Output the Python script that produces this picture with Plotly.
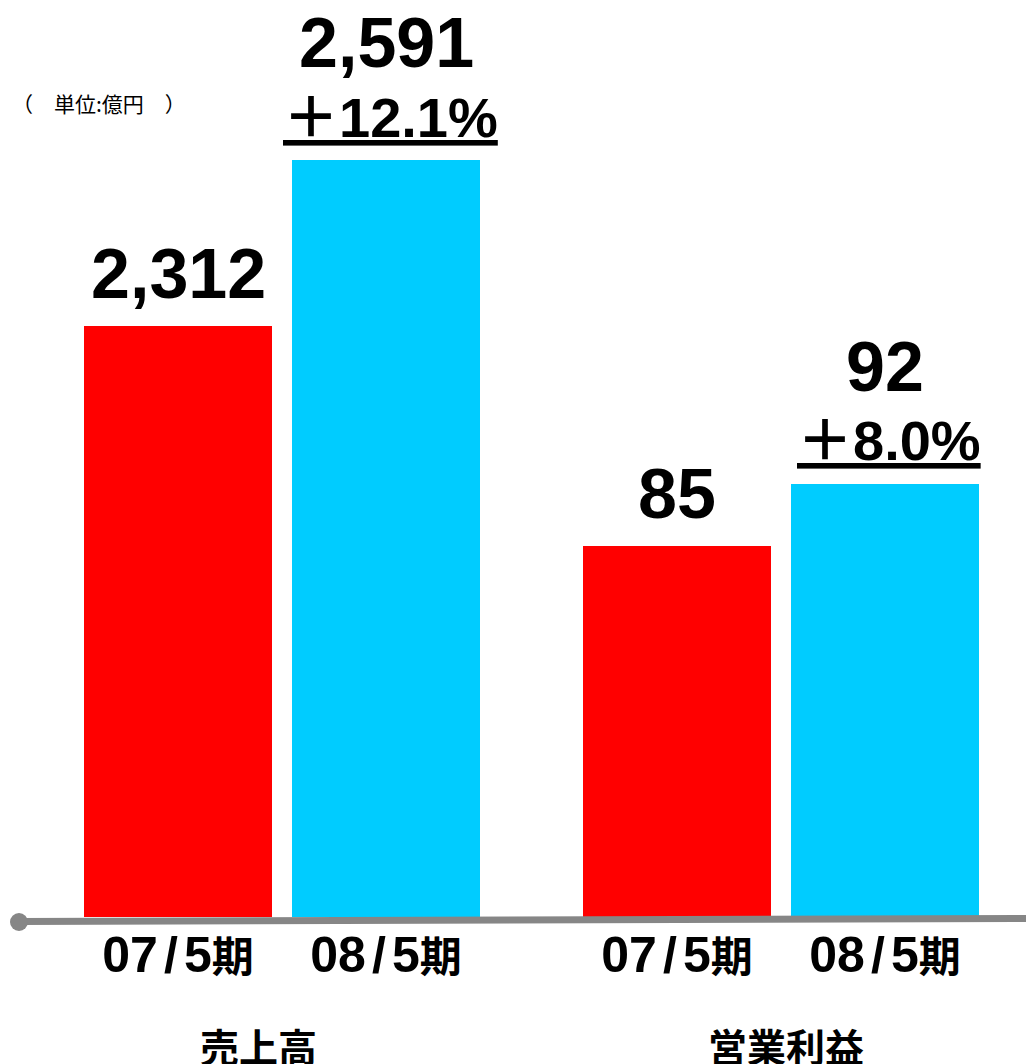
import plotly.graph_objects as go

# ---- data ----
periods = ["07/5期", "08/5期"]
groups = ["売上高", "営業利益"]
sales = [2312, 2591]
profit = [85, 92]
sales_labels = ["2,312", "2,591"]
profit_labels = ["85", "92"]
sales_growth = ["", "＋12.1%"]
profit_growth = ["", "＋8.0%"]
unit_label = "（\u3000単位:億円\u3000）"

# ---- styles ----
OFF = 8                      # page body margin: figure starts 8px in
W, H = 1034 - OFF, 1064 - OFF
PLOT_BOTTOM = 917 - OFF      # baseline, figure px from top
colors = ["#FF0000", "#00CCFF"]
FONT = "Liberation Sans, Arial, Noto Sans CJK JP"
CJK = "Noto Sans CJK JP"


def fx(px):
    return (px - OFF) / W


def fy(px):
    return (PLOT_BOTTOM - (px - OFF)) / PLOT_BOTTOM


fig = go.Figure()

panels = [
    ("x", "y", sales, sales_labels, sales_growth, [fx(74), fx(490)], [1318.7, 2846.5]),
    ("x2", "y2", profit, profit_labels, profit_growth, [fx(573), fx(989)], [43.11, 145.74]),
]

for xa, ya, vals, labs, grow, dom, rng in panels:
    fig.add_trace(go.Bar(
        x=periods, y=vals, xaxis=xa, yaxis=ya,
        marker=dict(color=colors, line=dict(width=0)),
        hoverinfo="skip", showlegend=False, cliponaxis=True,
    ))
    for p, v, lab, g in zip(periods, vals, labs, grow):
        fig.add_annotation(
            x=p, y=v, xref=xa, yref=ya, text=lab, showarrow=False,
            xanchor="center", yanchor="middle", yshift=117 if g else 52,
            font=dict(family=FONT, size=70, color="black", weight="bold"),
        )
        if g:
            fig.add_annotation(
                x=p, y=v, xref=xa, yref=ya, text=f"<u>{g}</u>", showarrow=False,
                xanchor="center", yanchor="middle", yshift=43, xshift=4,
                font=dict(family=FONT, size=56, color="black", weight="bold"),
            )

sp = "<span style='font-size:22px'> </span>"
ticktext = [
    p.replace("/", sp + "/" + sp).replace("期", "<span style='font-size:42px'>期</span>")
    for p in periods
]
axis_common = dict(
    type="category", showgrid=False, zeroline=False, showline=False, ticks="",
    tickvals=periods, ticktext=ticktext, ticklabelstandoff=4,
    range=[-0.5, len(periods) - 0.5], autorange=False, fixedrange=True,
    tickfont=dict(family=FONT, size=50, color="black", weight="bold"),
)
fig.update_layout(
    width=W, height=H, autosize=False,
    margin=dict(l=0, r=0, t=0, b=H - PLOT_BOTTOM, pad=0, autoexpand=False),
    paper_bgcolor="white", plot_bgcolor="white",
    bargap=20 / 208,
    xaxis=dict(domain=panels[0][5], anchor="y", **axis_common),
    xaxis2=dict(domain=panels[1][5], anchor="y2", **axis_common),
    yaxis=dict(range=panels[0][6], visible=False, domain=[0, 1], anchor="x", fixedrange=True),
    yaxis2=dict(range=panels[1][6], visible=False, domain=[0, 1], anchor="x2", fixedrange=True),
)

# group labels
for gname, gx in zip(groups, [258, 786]):
    fig.add_annotation(
        x=fx(gx), y=fy(1045), xref="paper", yref="paper", text=gname, showarrow=False,
        xanchor="center", yanchor="middle",
        font=dict(family=CJK, size=39, color="black", weight="bold"),
    )

# unit label
fig.add_annotation(
    x=fx(10), y=fy(103), xref="paper", yref="paper", text=unit_label, showarrow=False,
    xanchor="left", yanchor="middle",
    font=dict(family=CJK, size=21, color="black"),
)

# baseline decoration: gray line with round end caps
gray = "#868686"
fig.add_shape(type="line", xref="paper", yref="paper",
              x0=fx(19), y0=fy(921.5), x1=fx(1037), y1=fy(918.5),
              line=dict(color=gray, width=7), layer="above")
for cx, cy in [(19, 922), (1037, 918.5)]:
    fig.add_shape(type="circle", xref="paper", yref="paper",
                  x0=fx(cx - 9), x1=fx(cx + 9), y0=fy(cy + 9), y1=fy(cy - 9),
                  fillcolor=gray, line=dict(width=0), layer="above")

fig.write_html("out.html")
